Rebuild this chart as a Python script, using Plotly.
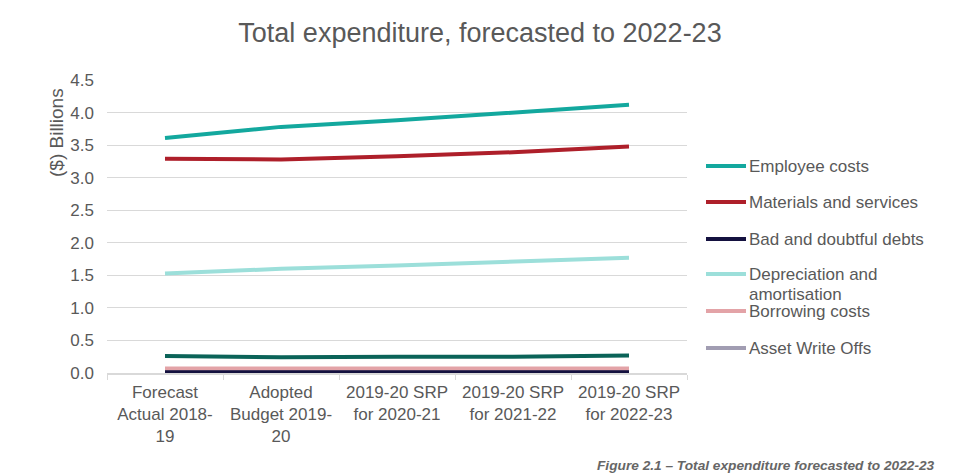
import plotly.graph_objects as go

categories = ["Forecast<br>Actual 2018-<br>19", "Adopted<br>Budget 2019-<br>20",
              "2019-20 SRP<br>for 2020-21", "2019-20 SRP<br>for 2021-22", "2019-20 SRP<br>for 2022-23"]

employee_costs = [3.61, 3.78, 3.88, 4.00, 4.12]
materials_services = [3.29, 3.28, 3.33, 3.39, 3.48]
bad_doubtful_debts = [0.01, 0.01, 0.01, 0.01, 0.01]
depreciation = [1.53, 1.60, 1.65, 1.71, 1.77]
borrowing_costs = [0.07, 0.07, 0.07, 0.07, 0.07]
asset_write_offs = [0.02, 0.02, 0.02, 0.02, 0.02]
other_expenses = [0.26, 0.24, 0.25, 0.25, 0.27]

series_names = ["Employee costs", "Materials and services", "Bad and doubtful debts",
                "Depreciation and<br>amortisation", "Borrowing costs", "Asset Write Offs"]
series_values = [employee_costs, materials_services, bad_doubtful_debts,
                 depreciation, borrowing_costs, asset_write_offs]
series_colors = ["#13A89E", "#AE1F2A", "#14113F", "#9CDFDA", "#E3A3A7", "#A19DB2"]

OFF = 8  # page body margin
W, H = 977 - OFF, 475 - OFF
# plot area in page pixels
PL, PR, PT, PB = 107, 687, 80, 373
L, R, T, B = PL - OFF, PR - OFF, PT - OFF, PB - OFF
TEXT = "#595959"
FONT = "Liberation Sans, Arial, sans-serif"

fig = go.Figure()

fig.add_trace(go.Scatter(x=categories, y=other_expenses, mode="lines", name="Other expenses",
                         line=dict(color="#0B6358", width=4), showlegend=False))
order = [5, 4, 2, 3, 1, 0]
for i in order:
    fig.add_trace(go.Scatter(x=categories, y=series_values[i], mode="lines",
                             name=series_names[i].replace("<br>", " "),
                             line=dict(color=series_colors[i], width=4),
                             showlegend=False))

def px_x(page_px):
    return (page_px - PL) / (PR - PL)

def px_y(page_py):
    return (PB - page_py) / (PB - PT)

shapes = []
annotations = []
legend_y = [166, 202, 239, 274, 311, 348]
for name, color, py in zip(series_names, series_colors, legend_y):
    shapes.append(dict(type="line", xref="paper", yref="paper",
                       x0=px_x(706), x1=px_x(746), y0=px_y(py), y1=px_y(py),
                       line=dict(color=color, width=4)))
    lines = name.split("<br>")
    for k, ln in enumerate(lines):
        annotations.append(dict(text=ln, xref="paper", yref="paper",
                                x=px_x(747), y=px_y(py + k * 20), xanchor="left", yanchor="middle",
                                showarrow=False, font=dict(size=17, color=TEXT, family=FONT)))

annotations.append(dict(text="($) Billions", xref="paper", yref="paper",
                        x=px_x(56), y=px_y(133), xanchor="center", yanchor="middle",
                        textangle=-90, showarrow=False,
                        font=dict(size=19, color=TEXT, family=FONT)))
annotations.append(dict(text="<b><i>Figure 2.1 – Total expenditure forecasted to 2022-23</i></b>",
                        xref="paper", yref="paper", x=px_x(937), y=px_y(465),
                        xanchor="right", yanchor="middle", showarrow=False,
                        font=dict(size=13.7, color="#666666", family=FONT)))

fig.update_layout(
    width=W, height=H,
    margin=dict(l=L, r=W - R, t=T, b=H - B, pad=0),
    paper_bgcolor="white", plot_bgcolor="white",
    title=dict(text="Total expenditure, forecasted to 2022-23", x=(480 - OFF) / W, xanchor="center",
               y=1 - (33 - OFF) / H, yanchor="middle", yref="container",
               font=dict(size=27, color=TEXT, family=FONT)),
    font=dict(family=FONT, color=TEXT, size=17),
    showlegend=False,
    shapes=shapes,
    annotations=annotations,
)
fig.update_xaxes(type="category", range=[-0.5, 4.5], showgrid=False,
                 showline=True, linecolor="#D9D9D9", linewidth=1.5,
                 ticks="outside", tickson="boundaries", ticklen=5, tickcolor="#D9D9D9",
                 ticklabelstandoff=3,
                 tickfont=dict(size=17, color=TEXT, family=FONT))
fig.update_yaxes(range=[0, 4.5], dtick=0.5, tick0=0, tickformat=".1f",
                 showgrid=True, gridcolor="#D9D9D9", gridwidth=1, zeroline=False,
                 showline=False, ticks="", ticklabelstandoff=12,
                 tickfont=dict(size=17, color=TEXT, family=FONT))

fig.write_html("out.html")
